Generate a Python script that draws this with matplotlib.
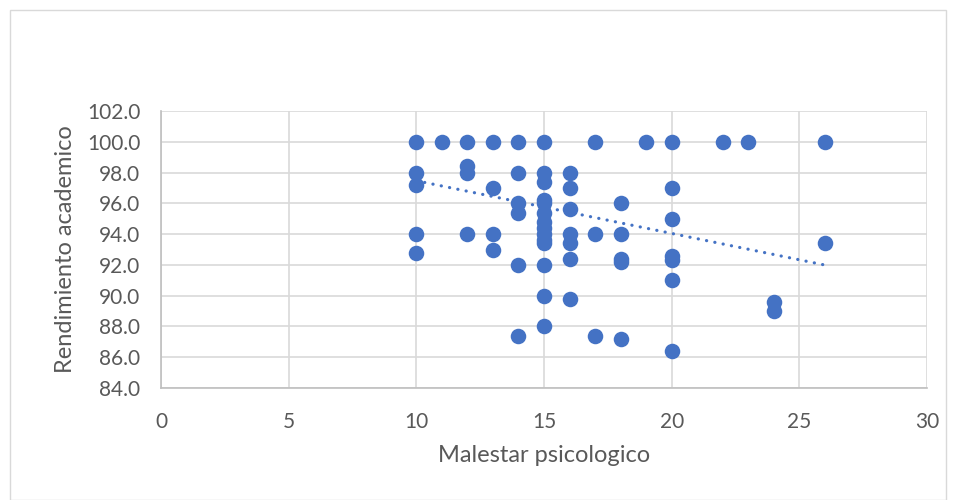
import numpy as np
import matplotlib
matplotlib.use("Agg")
import matplotlib.pyplot as plt
from matplotlib.patches import Rectangle

# data (x = Malestar psicologico, y = Rendimiento academico)
malestar = [10, 11, 12, 13, 14, 15, 17, 19, 20, 22, 23, 26,
            10, 10, 10, 10,
            12, 12, 12,
            13, 13, 13,
            14, 14, 14, 14, 14,
            15, 15, 15, 15, 15, 15, 15, 15, 15, 15, 15, 15, 15,
            16, 16, 16, 16, 16, 16, 16,
            17, 17,
            18, 18, 18, 18, 18,
            20, 20, 20, 20, 20, 20,
            24, 24,
            26]
rendimiento = [100.0, 100.0, 100.0, 100.0, 100.0, 100.0, 100.0, 100.0, 100.0, 100.0, 100.0, 100.0,
               98.0, 97.2, 94.0, 92.8,
               98.4, 98.0, 94.0,
               97.0, 94.0, 93.0,
               98.0, 96.0, 95.4, 92.0, 87.4,
               98.0, 97.4, 96.2, 96.0, 95.4, 94.8, 94.4, 94.0, 93.6, 93.4, 92.0, 90.0, 88.0,
               98.0, 97.0, 95.6, 94.0, 93.4, 92.4, 89.8,
               94.0, 87.4,
               96.0, 94.0, 92.4, 92.2, 87.2,
               97.0, 95.0, 92.6, 92.3, 91.0, 86.4,
               89.6, 89.0,
               93.4]

# linear trend line as shown in the chart (many points overlap, so read it off directly)
trend_x = [10, 26]
trend_y = [97.47, 91.99]

x_ticks = [0, 5, 10, 15, 20, 25, 30]
y_ticks = [84, 86, 88, 90, 92, 94, 96, 98, 100, 102]

plt.rcParams['font.family'] = ['Lato', 'DejaVu Sans']
blue = '#4472C4'
txt = '#595959'

fig = plt.figure(figsize=(9.56, 5.0), dpi=100)
ax = fig.add_axes([161 / 956, 1 - 388 / 500, (927 - 161) / 956, (388 - 111) / 500])

# outer chart border
fig.patches.append(Rectangle((10 / 956, 0.0), 936 / 956, 1 - 10 / 500, transform=fig.transFigure,
                             fill=False, edgecolor='#d9d9d9', linewidth=1))

ax.scatter(malestar, rendimiento, s=125, color=blue, zorder=3, linewidths=0)

# round dots, roughly 8 px apart
ax.plot(trend_x, trend_y, color=blue, linestyle=(0, (0.05, 2.6)), linewidth=2.3,
        dash_capstyle='round', zorder=2)

ax.set_xlim(0, 30)
ax.set_ylim(84, 102)
ax.set_xticks(x_ticks)
ax.set_yticks(y_ticks)
ax.set_yticklabels([f"{v:.1f}" for v in y_ticks])
ax.grid(True, color='#d9d9d9', linewidth=1.2, zorder=0)
ax.set_axisbelow(True)
for s in ['top', 'right']:
    ax.spines[s].set_visible(False)
for s in ['left', 'bottom']:
    ax.spines[s].set_color('#bfbfbf')
    ax.spines[s].set_linewidth(1.2)
ax.tick_params(length=0, labelsize=15, colors=txt)
ax.tick_params(axis='x', pad=17)
ax.tick_params(axis='y', pad=15)

ax.set_xlabel('Malestar psicologico', fontsize=17, color=txt, labelpad=10)
ax.set_ylabel('Rendimiento academico', fontsize=17, color=txt, labelpad=8)

fig.savefig('out.png', dpi=100)
